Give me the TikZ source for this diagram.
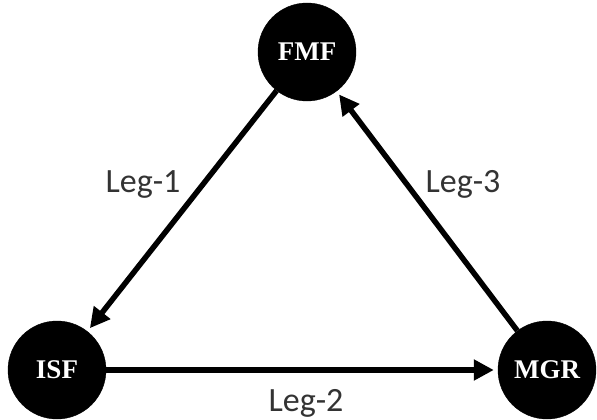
\documentclass[tikz,border=0pt]{standalone}
\usepackage{fontspec}
\setmainfont{Liberation Serif}
\newfontfamily\legfont{Carlito}
\usetikzlibrary{arrows.meta}
\begin{document}
\begin{tikzpicture}[x=1pt,y=-1pt,
  station/.style={circle,fill=black,draw=black,minimum size=98pt,inner sep=0pt,text=white,font=\fontsize{27}{30}\selectfont\bfseries},
  leg/.style={line width=5.5pt,-{Triangle[length=20pt,width=20pt]},shorten >=4pt},
  leglabel/.style={font=\legfont\fontsize{34}{37}\selectfont,text=black!80}]
\useasboundingbox (0,0) rectangle (597,420);
\node[station] (fmf) at (307,52) {FMF};
\node[station] (isf) at (57,370) {ISF};
\node[station] (mgr) at (547,370) {MGR};
\draw[leg] (fmf) -- (isf);
\draw[leg] (isf) -- (mgr);
\draw[leg] (mgr) -- (fmf);
\node[leglabel] (l1) at (143,184) {Leg-1};
\node[leglabel] (l3) at (463,184) {Leg-3};
\node[leglabel] (l2) at (306,403) {Leg-2};
\end{tikzpicture}
\end{document}
